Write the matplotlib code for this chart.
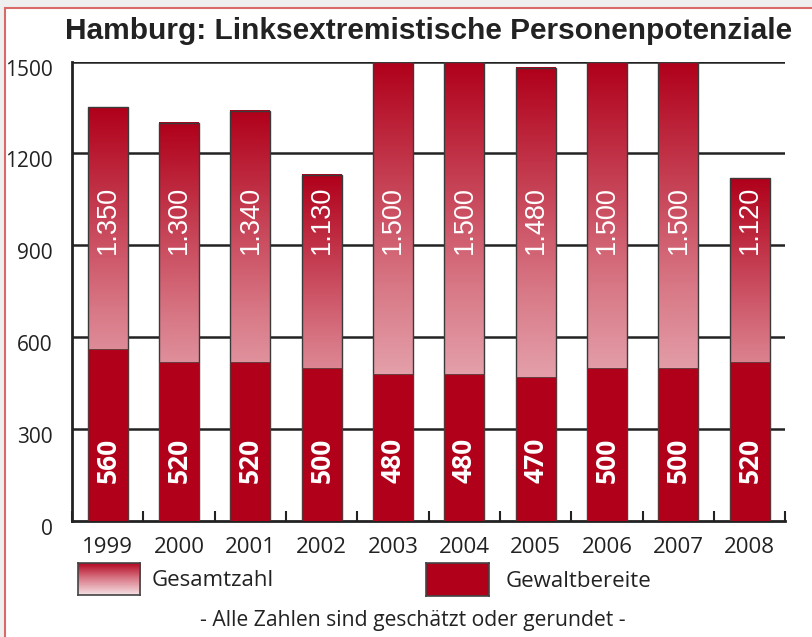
import numpy as np
import matplotlib
matplotlib.use("Agg")
import matplotlib.pyplot as plt
from matplotlib import patches
from matplotlib.colors import LinearSegmentedColormap
from matplotlib.transforms import ScaledTranslation

years = ["1999", "2000", "2001", "2002", "2003", "2004", "2005", "2006", "2007", "2008"]
gesamtzahl = [1350, 1300, 1340, 1130, 1500, 1500, 1480, 1500, 1500, 1120]
gewaltbereite = [560, 520, 520, 500, 480, 480, 470, 500, 500, 520]
yticks = [0, 300, 600, 900, 1200, 1500]

RED = "#b0001a"
grad = LinearSegmentedColormap.from_list("grad", ["#f6e2e5", "#d97a88", RED])
gimg = np.linspace(1, 0, 256).reshape(-1, 1)

W, H = 812, 637
fig = plt.figure(figsize=(8.125, 6.375), dpi=100)
fig.patch.set_facecolor("#efefef")

# white sheet with red frame
frame = patches.Rectangle((5 / W, -0.1), 1.2, 1.1 - 8 / H, transform=fig.transFigure,
                          facecolor="white", edgecolor="#d86a6a", linewidth=1.5, zorder=-5)
fig.patches.append(frame)

ax = fig.add_axes([72 / W, (H - 521) / H, 713 / W, 459 / H])
ax.set_facecolor("none")

x = np.arange(len(years)) + 0.5
w = 0.56
for xi, tot, gw in zip(x, gesamtzahl, gewaltbereite):
    ax.imshow(gimg, cmap=grad, aspect="auto", extent=[xi - w / 2, xi + w / 2, 0, tot],
              zorder=2, interpolation="bicubic")
    ax.add_patch(patches.Rectangle((xi - w / 2, 0), w, tot, fill=False,
                                   edgecolor="#3a3a3a", linewidth=1.0, zorder=3))
    ax.bar(xi, gw, width=w, color=RED, edgecolor="#5a3a3a", linewidth=0.6, zorder=4)
    ax.text(xi, 985, "{:.3f}".format(tot / 1000), rotation=90, ha="center", va="center",
            color="white", fontsize=19.5, family="Liberation Sans", zorder=5)
    ax.text(xi, 200, str(gw), rotation=90, ha="center", va="center",
            color="white", fontsize=19, fontweight="bold", family="Open Sans", zorder=5)

ax.set_xlim(0, 10)
ax.set_ylim(0, 1500)

ax.hlines(yticks[1:], 0, 10, color="#222222", linewidth=1.8, zorder=1)

for s in ["top", "right"]:
    ax.spines[s].set_visible(False)
for s in ["left", "bottom"]:
    ax.spines[s].set_linewidth(2.0)
    ax.spines[s].set_color("#222222")

ax.set_yticks(yticks)
ax.set_yticklabels([str(v) for v in yticks], family="Open Sans", fontsize=15, color="#222222")
ax.tick_params(axis="y", length=0, pad=14)
off = ScaledTranslation(0, -4 / 72, fig.dpi_scale_trans)
for lab in ax.get_yticklabels():
    lab.set_transform(lab.get_transform() + off)

ax.set_xticks(x)
ax.set_xticklabels(years, family="Open Sans", fontsize=16, color="#222222")
ax.tick_params(axis="x", which="major", length=0, pad=11)
ax.set_xticks(np.arange(0, 11), minor=True)
ax.tick_params(axis="x", which="minor", direction="in", length=7.5, width=1.5, color="#222222")

fig.text(428 / W, 1 - 31 / H, "Hamburg: Linksextremistische Personenpotenziale",
         ha="center", va="center", fontsize=21.5, fontweight="bold",
         family="Liberation Sans", color="#222222")

# legend
lg1 = fig.add_axes([78 / W, (H - 595) / H, 62 / W, 32 / H])
lg1.imshow(gimg, cmap=grad, aspect="auto", extent=[0, 1, 0, 1], interpolation="bicubic")
lg2 = fig.add_axes([426 / W, (H - 596) / H, 63 / W, 33 / H])
lg2.set_facecolor(RED)
for a in (lg1, lg2):
    a.set_xticks([])
    a.set_yticks([])
    for sp in a.spines.values():
        sp.set_color("#444444")
        sp.set_linewidth(1.2)
fig.text(152 / W, 1 - 580 / H, "Gesamtzahl", ha="left", va="center",
         fontsize=16, family="Open Sans", color="#222222")
fig.text(505 / W, 1 - 581 / H, "Gewaltbereite", ha="left", va="center",
         fontsize=16, family="Open Sans", color="#222222")

fig.text(413 / W, 1 - 620 / H, "- Alle Zahlen sind geschätzt oder gerundet -",
         ha="center", va="center", fontsize=15.2, family="Open Sans", color="#222222")

plt.savefig("out.png", dpi=100, facecolor=fig.get_facecolor())
